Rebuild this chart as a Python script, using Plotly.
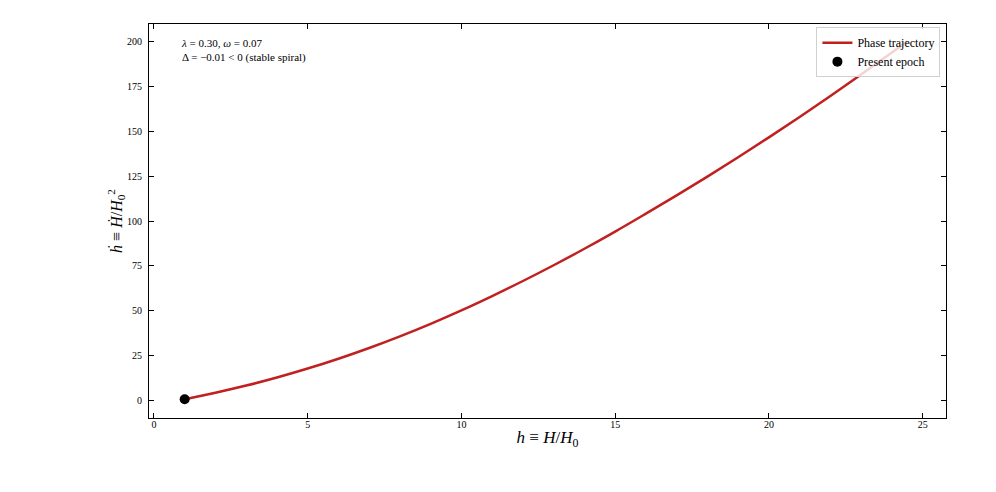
import plotly.graph_objects as go

# phase trajectory
h_vals = [1, 2, 3, 4, 5, 6, 7, 8, 9, 10, 11, 12, 13, 14, 15, 16, 17,
          18, 19, 20, 21, 22, 23, 24, 24.5]
hdot_vals = [0.5, 4.1, 8.1, 12.6, 17.6, 23.1, 29.1, 35.6, 42.6, 50.1, 58.1,
             66.5, 75.3, 84.5, 94.1, 104.1, 114.3, 124.8, 135.6, 146.7,
             158.1, 169.8, 181.8, 194.1, 200.3]
present_h = [1.0]
present_hdot = [0.5]

fig = go.Figure()
fig.add_trace(go.Scatter(
    x=h_vals, y=hdot_vals, mode="lines", name="Phase trajectory",
    line=dict(color="#c0201f", width=2.5, shape="spline"),
))
fig.add_trace(go.Scatter(
    x=present_h, y=present_hdot, mode="markers", name="Present epoch",
    marker=dict(color="black", size=10),
))

fig.add_annotation(
    xref="paper", yref="paper", x=0.038, y=0.972,
    xanchor="left", yanchor="top", align="left", showarrow=False,
    text="<i>λ</i> = 0.30, <i>ω</i> = 0.07<br>Δ = −0.01 < 0 (stable spiral)",
    font=dict(size=11, color="black"),
)

axis_style = dict(
    showline=True, linecolor="black", linewidth=1, mirror="ticks",
    ticks="inside", ticklen=5, tickcolor="black", showgrid=False,
    zeroline=False, tickfont=dict(size=10, color="black"),
)

fig.update_xaxes(
    range=[-0.16, 25.76], dtick=5, tick0=0, ticklabelstandoff=-3,
    title=dict(text="<i>h</i> ≡ <i>H</i>/<i>H</i><sub>0</sub>",
               font=dict(size=17), standoff=2),
    **axis_style,
)
fig.update_yaxes(
    range=[-10, 210], dtick=25, tick0=0, ticklabelstandoff=4,
    title=dict(text="<i>ḣ</i> ≡ <i>Ḣ</i>/<i>H</i><sub>0</sub><sup>2</sup>",
               font=dict(size=16), standoff=0),
    **axis_style,
)

fig.update_layout(
    width=996, height=492,
    margin=dict(l=141, r=58, t=16, b=82),
    paper_bgcolor="white", plot_bgcolor="white",
    font=dict(family="Liberation Serif, Times New Roman, serif", color="black"),
    legend=dict(
        x=0.993, y=0.992, xanchor="right", yanchor="top",
        bgcolor="rgba(255,255,255,0.8)", bordercolor="#d0d0d0", borderwidth=1,
        font=dict(size=12), itemwidth=30,
    ),
)

fig.write_html("out.html")
